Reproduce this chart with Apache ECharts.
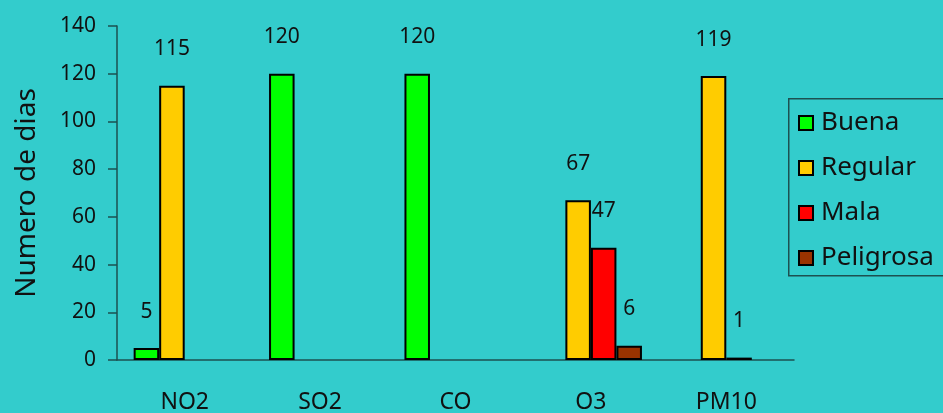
<!DOCTYPE html>
<html>
<head>
<meta charset="utf-8">
<script src="https://cdn.jsdelivr.net/npm/echarts@6/dist/echarts.min.js"></script>
<style>
html,body{margin:0;padding:0;background:#33CCCC;}
#c{width:943px;height:413px;}
</style>
</head>
<body>
<div id="c"></div>
<script>
const categories = ['NO2', 'SO2', 'CO', 'O3', 'PM10'];
const seriesNames = ['Buena', 'Regular', 'Mala', 'Peligrosa'];
const buena = [5, 120, 120, null, null];
const regular = [115, null, null, 67, 119];
const mala = [null, null, null, 47, 1];
const peligrosa = [null, null, null, 6, null];
const yMin = 0, yMax = 140, yStep = 20;

const colors = ['#00FF00', '#FFCC00', '#FF0000', '#993300'];
const FONT = 'Noto Sans';
const TXT = '#111111';
const AXIS = '#1d5050';

const chart = echarts.init(document.getElementById('c'), null, {renderer: 'canvas'});
const values = [buena, regular, mala, peligrosa];

chart.setOption({
  backgroundColor: '#33CCCC',
  animation: false,
  grid: {left: 117, right: 149, top: 26, bottom: 53, containLabel: false, outerBoundsMode: 'none'},
  graphic: [{
    type: 'rect',
    left: 788,
    top: 98,
    shape: {width: 200, height: 177},
    style: {fill: 'transparent', stroke: AXIS, lineWidth: 1.5},
    z: 1
  }],
  legend: {
    orient: 'vertical',
    left: 788,
    top: 98,
    padding: [10, 10, 3, 10],
    itemGap: 15,
    itemWidth: 14,
    itemHeight: 14,
    icon: 'rect',
    borderWidth: 0,
    backgroundColor: 'transparent',
    itemStyle: {borderColor: '#000', borderWidth: 2},
    textStyle: {fontFamily: FONT, fontSize: 26, color: TXT, lineHeight: 30, padding: [0, 0, 0, 3]},
    data: seriesNames
  },
  xAxis: {
    type: 'category',
    data: categories,
    axisLine: {show: true, lineStyle: {color: AXIS, width: 1.5}},
    axisTick: {show: false},
    axisLabel: {fontFamily: FONT, fontSize: 23, color: TXT, margin: 31, lineHeight: 23}
  },
  yAxis: {
    type: 'value',
    min: yMin, max: yMax, interval: yStep,
    name: 'Numero de dias',
    nameLocation: 'middle',
    nameGap: 76,
    nameTextStyle: {fontFamily: FONT, fontSize: 28, color: TXT},
    axisLine: {show: true, lineStyle: {color: AXIS, width: 1.5}},
    axisTick: {show: true, length: 9, lineStyle: {color: AXIS, width: 1.5}},
    splitLine: {show: false},
    axisLabel: {fontFamily: FONT, fontSize: 21, color: TXT, margin: 21, padding: [0, 0, 6, 0]}
  },
  series: seriesNames.map((n, i) => ({
    name: n,
    type: 'bar',
    data: values[i],
    barGap: '0%',
    barCategoryGap: '24.6%',
    itemStyle: {color: colors[i], borderColor: '#000', borderWidth: 2},
    label: {
      show: true,
      position: 'top',
      distance: 26,
      fontFamily: FONT,
      fontSize: 21,
      lineHeight: 21,
      color: TXT
    }
  }))
});
</script>
</body>
</html>
